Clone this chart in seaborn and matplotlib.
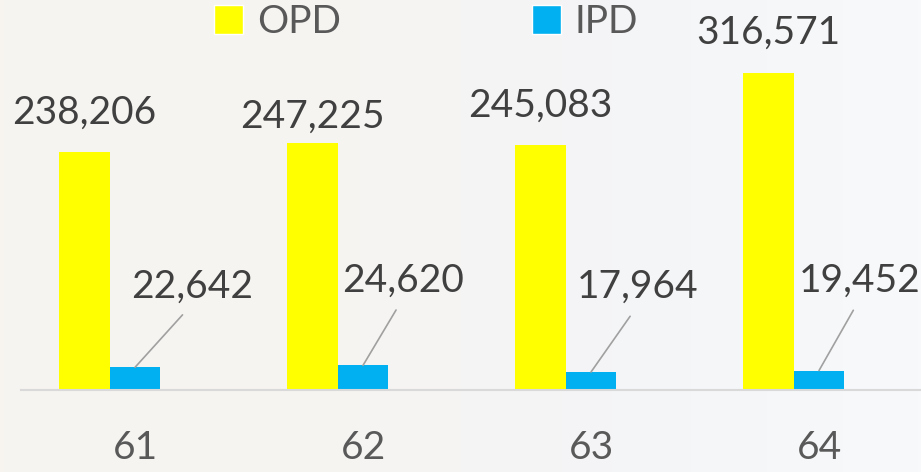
import numpy as np
import pandas as pd
import matplotlib
matplotlib.use("Agg")
import matplotlib.pyplot as plt
from matplotlib.patches import Patch
from matplotlib.colors import LinearSegmentedColormap
import seaborn as sns

# ==================== data ====================
years = ["61", "62", "63", "64"]
opd = [238206, 247225, 245083, 316571]
ipd = [22642, 24620, 17964, 19452]
series = ["OPD", "IPD", "blank"]

# label offsets (pixels)
OPD_DY = [28, 15, 28, 30]
IPD_DX = [57, 40, 47, 41]
IPD_DY = [70, 74, 74, 79]

COLORS = {"OPD": "#FFFF00", "IPD": "#00B0F0", "blank": "#FFFFFF"}
FONT = ["Lato", "DejaVu Sans"]

df = pd.DataFrame({
    "year": years * 3,
    "series": ["OPD"] * 4 + ["IPD"] * 4 + ["blank"] * 4,
    "value": opd + ipd + [0] * 4,
})

sns.set_theme(style="white")
plt.rcParams["font.family"] = FONT

W, H = 921, 472
fig = plt.figure(figsize=(W / 100, H / 100), dpi=100)

# background
bg = fig.add_axes([0, 0, 1, 1])
cmap = LinearSegmentedColormap.from_list("bg", ["#F7F4F0", "#F6F4F1", "#F4F5F7", "#F8F9FA"])
bg.imshow(np.linspace(0, 1, 256)[None, :], aspect="auto", cmap=cmap, extent=[0, 1, 0, 1])
bg.axis("off")

ax = fig.add_axes([21 / W, (H - 390) / H, 912 / W, 390 / H])
ax.patch.set_alpha(0)
sns.barplot(data=df, x="year", y="value", hue="series", hue_order=series,
            palette=COLORS, width=0.67, saturation=1, linewidth=0,
            legend=False, ax=ax)
ax.set_ylim(0, 390000)
ax.set_xlim(-0.5, 3.5)

for s in ["top", "right", "left"]:
    ax.spines[s].set_visible(False)
ax.spines["bottom"].set_color("#D9D9D9")
ax.spines["bottom"].set_linewidth(1.5)
ax.set_yticks([])
ax.set_xlabel("")
ax.set_ylabel("")
ax.tick_params(axis="x", length=0, pad=29, labelsize=28, labelcolor="#595959")

# OPD labels
for bar, dy in zip(ax.containers[0], OPD_DY):
    x = bar.get_x() + bar.get_width() / 2
    ax.annotate(f"{bar.get_height():,.0f}", (x, bar.get_height()),
                xytext=(0, dy), textcoords="offset pixels",
                ha="center", va="baseline", fontsize=28, color="#404040")

# IPD labels with leader lines
for bar, dx, dy in zip(ax.containers[1], IPD_DX, IPD_DY):
    x = bar.get_x() + bar.get_width() / 2
    ax.annotate(f"{bar.get_height():,.0f}", (x, bar.get_height()),
                xytext=(dx, dy), textcoords="offset pixels",
                ha="center", va="baseline", fontsize=28, color="#404040",
                arrowprops=dict(arrowstyle="-", color="#A0A0A0", lw=1.2,
                                relpos=(0.5, 0), shrinkA=7, shrinkB=0))

handles = [Patch(facecolor=COLORS["OPD"]), Patch(facecolor=COLORS["IPD"])]
fig.legend(handles, ["OPD", "IPD"], loc="upper left",
           bbox_to_anchor=(214 / W, 1 - 4 / H), ncol=2, frameon=False,
           fontsize=28, labelcolor="#595959", borderpad=0, borderaxespad=0,
           handlelength=0.75, handleheight=0.75, handletextpad=0.36,
           columnspacing=4.9)

fig.savefig("out.png", dpi=100)
